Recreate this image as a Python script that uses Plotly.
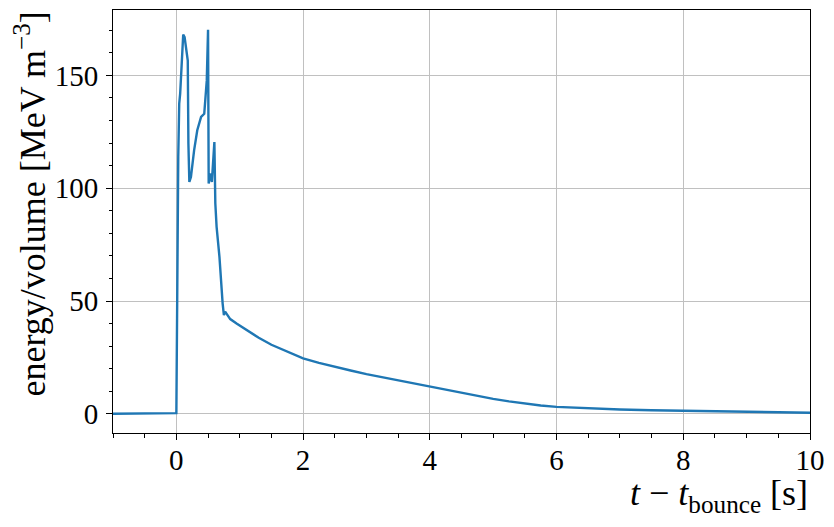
import plotly.graph_objects as go

# time after bounce [s] and energy density [MeV m^-3]
t = [-1.0, -0.01, 0.0, 0.03, 0.045, 0.06, 0.087, 0.108, 0.13, 0.15, 0.18, 0.19,
     0.205, 0.23, 0.28, 0.33, 0.39, 0.44, 0.46, 0.48, 0.50, 0.51, 0.53, 0.56,
     0.60, 0.615, 0.635, 0.68, 0.73, 0.75, 0.77, 0.85, 0.95, 1.1, 1.3, 1.5,
     1.75, 2.0, 2.25, 2.5, 2.75, 3.0, 3.25, 3.5, 3.75, 4.0, 4.25, 4.5, 4.75,
     5.0, 5.25, 5.5, 5.75, 6.0, 6.5, 7.0, 7.5, 8.0, 8.5, 9.0, 9.5, 10.0]
energy = [0.0, 0.0, 0.3, 113.9, 137.5, 141.9, 161.0, 168.1, 167.0, 162.5, 156.6, 119.8,
          102.8, 105.0, 116.8, 125.7, 131.6, 133.0, 140.4, 147.8, 170.2, 102.1, 106.5, 102.8,
          120.5, 93.2, 82.9, 69.6, 49.0, 43.8, 45.3, 42.0, 40.0, 37.2, 33.7, 30.6,
          27.5, 24.6, 22.6, 20.8, 19.2, 17.6, 16.2, 14.8, 13.4, 12.1, 10.7, 9.3, 7.9,
          6.6, 5.5, 4.5, 3.7, 3.1, 2.4, 1.9, 1.6, 1.3, 1.1, 0.9, 0.7, 0.5]

font = "Liberation Serif"

fig = go.Figure()
fig.add_trace(go.Scatter(x=t, y=energy, mode="lines",
                         line=dict(color="#1f77b4", width=2.4)))

axis = dict(showline=True, mirror=True, linecolor="black", linewidth=1,
            ticks="outside", ticklen=6, tickcolor="black", tickwidth=1,
            showgrid=True, gridcolor="#c0c0c0", gridwidth=0.8, zeroline=False,
            tickfont=dict(family=font, size=29, color="black"))
fig.update_xaxes(axis, range=[-1, 10], tick0=0, dtick=2, ticklabelstandoff=-5,
                 minor=dict(dtick=0.5, ticks="outside", ticklen=3.5, tickcolor="black", showgrid=False))
fig.update_yaxes(axis, range=[-8.5, 179], tick0=0, dtick=50, ticklabelstandoff=2,
                 minor=dict(dtick=10, ticks="outside", ticklen=3.5, tickcolor="black", showgrid=False))

fig.add_annotation(text="energy/volume [MeV m<sup>−3</sup>]", textangle=-90,
                   xref="paper", yref="paper", x=-0.119, y=1.0, xanchor="center", yanchor="top",
                   showarrow=False, font=dict(family=font, size=36, color="black"))
fig.add_annotation(text="<i>t</i> − <i>t</i><sub>bounce</sub> [s]",
                   xref="paper", yref="paper", x=1.0, y=-0.148, xanchor="right", yanchor="middle",
                   showarrow=False, font=dict(family=font, size=36, color="black"))

# page body has an 8px margin, so the figure is a bit smaller than the window
fig.update_layout(width=818, height=511, margin=dict(l=105, r=16, t=2, b=86),
                  plot_bgcolor="white", paper_bgcolor="white", showlegend=False)

fig.write_html("out.html")
